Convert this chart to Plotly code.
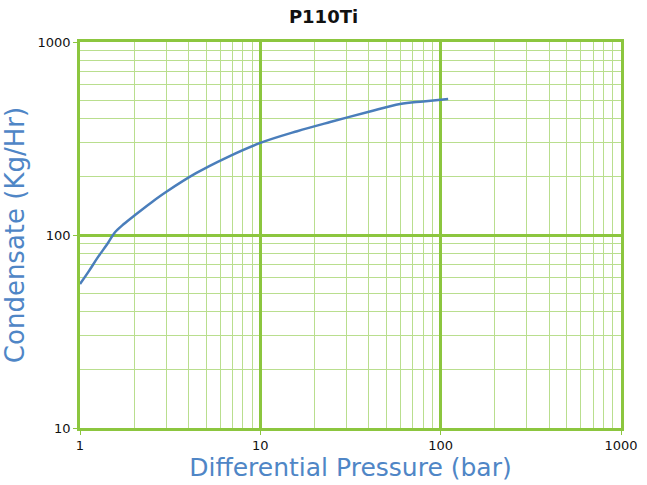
import plotly.graph_objects as go

# Data
pressure_bar = [1.0, 1.12, 1.26, 1.42, 1.56, 1.75, 2.02, 2.5, 3.0, 4.4, 6.5, 10.0, 16.0, 24.4, 40.0, 59.5, 80.0, 110.0]
condensate_kg_hr = [55.7, 65, 77, 90, 103, 114, 127, 148, 167, 209, 252, 300, 345, 385, 435, 477, 492, 507]

x_tick_vals = [1, 10, 100, 1000]
x_tick_text = ["1", "10", "100", "1000"]
y_tick_vals = [10, 100, 1000]
y_tick_text = ["10", "100", "1000"]

major_green = "#8cc63f"
minor_green = "#b9de8e"
blue = "#4f86c6"

fig = go.Figure()
fig.add_trace(go.Scatter(
    x=pressure_bar, y=condensate_kg_hr, mode="lines",
    line=dict(color="#4a7ebb", width=2.5, shape="spline", smoothing=1.0),
    showlegend=False,
))

axis_common = dict(
    type="log",
    automargin=False,
    showgrid=True, gridcolor=major_green, gridwidth=2.5,
    showline=True, linecolor=major_green, linewidth=2.5, mirror=True,
    zeroline=False,
    ticks="outside", ticklen=4, tickcolor=major_green,
    tickfont=dict(family="DejaVu Sans", size=13, color="#111111"),
    minor=dict(dtick="D1", showgrid=True, gridcolor=minor_green, gridwidth=1, ticks=""),
)

fig.update_layout(
    width=647, height=485,
    margin=dict(l=80, r=26, t=42, b=57),
    paper_bgcolor="white", plot_bgcolor="white",
    title=dict(text="<b>P110Ti</b>", x=0.5, xanchor="center", y=0.965, yanchor="middle",
               font=dict(family="DejaVu Sans", size=18, color="#111111")),
    xaxis=dict(axis_common, range=[0, 3], tickvals=x_tick_vals, ticktext=x_tick_text,
               title=dict(text="Differential Pressure (bar)", standoff=4,
                          font=dict(family="DejaVu Sans", size=25, color=blue))),
    yaxis=dict(axis_common, range=[1, 3], tickvals=y_tick_vals, ticktext=y_tick_text,
               title=dict(text="Condensate (Kg/Hr)", standoff=6,
                          font=dict(family="DejaVu Sans", size=26, color=blue))),
)

fig.write_html("out.html", config={"displayModeBar": False},
               post_script="document.body.style.margin='0';")
